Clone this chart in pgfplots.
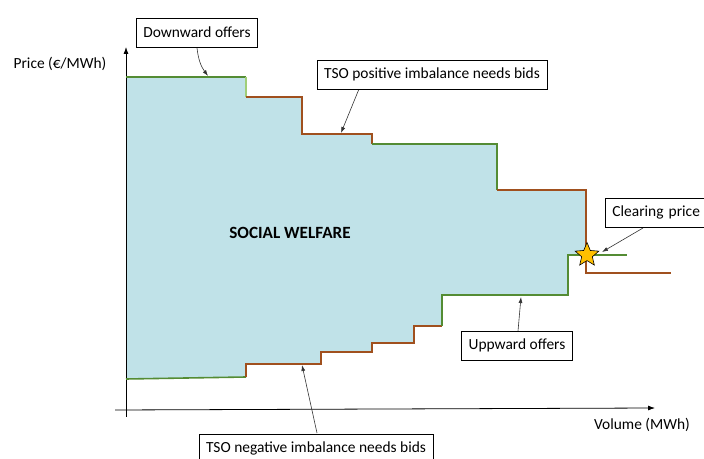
\documentclass[border=0pt]{standalone}
\usepackage{fontspec}
\setmainfont{Carlito}
\usepackage{pgfplots}
\pgfplotsset{compat=1.18}
\usetikzlibrary{arrows.meta}
\definecolor{welfare}{RGB}{192,226,232}
\definecolor{offgreen}{RGB}{84,140,52}
\definecolor{lightgreen}{RGB}{160,206,120}
\definecolor{bidbrown}{RGB}{160,80,30}
\definecolor{stargold}{RGB}{255,192,0}
\pgfdeclareplotmark{fivestar}{%
  \pgfpathmoveto{\pgfpointpolar{90}{\pgfplotmarksize}}%
  \pgfpathlineto{\pgfpointpolar{126}{0.45\pgfplotmarksize}}%
  \pgfpathlineto{\pgfpointpolar{162}{\pgfplotmarksize}}%
  \pgfpathlineto{\pgfpointpolar{198}{0.45\pgfplotmarksize}}%
  \pgfpathlineto{\pgfpointpolar{234}{\pgfplotmarksize}}%
  \pgfpathlineto{\pgfpointpolar{270}{0.45\pgfplotmarksize}}%
  \pgfpathlineto{\pgfpointpolar{306}{\pgfplotmarksize}}%
  \pgfpathlineto{\pgfpointpolar{342}{0.45\pgfplotmarksize}}%
  \pgfpathlineto{\pgfpointpolar{18}{\pgfplotmarksize}}%
  \pgfpathlineto{\pgfpointpolar{54}{0.45\pgfplotmarksize}}%
  \pgfpathclose
  \pgfusepathqfillstroke}
\begin{document}
\begin{tikzpicture}[
  lbl/.style={draw=black, line width=0.8pt, fill=white, font=\fontsize{15.5}{18}\selectfont,
    minimum height=29bp, inner xsep=7bp, inner ysep=0pt},
  arr/.style={-{Latex[length=6pt,width=4pt]}, line width=0.6pt, black!80}]
\begin{axis}[
  scale only axis, width=704bp, height=459bp,
  xmin=-126, xmax=578, ymin=-49, ymax=410,
  hide axis, clip=false]
% social welfare area
\addplot[fill=welfare, draw=none] coordinates {
  (0,31) (120,33) (120,46) (195,46) (195,58) (246,58) (246,67) (288,67) (288,84)
  (316,84) (316,115) (442,115) (442,155) (460,155) (460,220) (371,220) (371,266)
  (246,266) (246,276) (176,276) (176,313) (120,313) (120,333) (0,333)} -- cycle;
% axes
\draw[line width=0.8pt, -{Latex[length=7pt,width=5pt]}] (axis cs:0,-7) -- (axis cs:0,363);
\draw[line width=0.8pt, -{Latex[length=7pt,width=5pt]}] (axis cs:-11,0) -- (axis cs:529,2);
% demand side (downward offers / TSO positive imbalance bids)
\addplot[offgreen, line width=1.6pt] coordinates {(0,333) (120,333)};
\addplot[lightgreen, line width=1.6pt] coordinates {(120,333) (120,313)};
\addplot[bidbrown, line width=1.6pt] coordinates {(120,313) (176,313) (176,276) (246,276) (246,266)};
\addplot[offgreen, line width=1.6pt] coordinates {(246,266) (371,266) (371,220)};
\addplot[bidbrown, line width=1.6pt] coordinates {(371,220) (460,220) (460,137) (545,137)};
% supply side (upward offers / TSO negative imbalance bids)
\addplot[offgreen, line width=1.6pt] coordinates {(0,31) (120,33)};
\addplot[bidbrown, line width=1.6pt] coordinates {(120,33) (120,46) (195,46) (195,58) (246,58)
  (246,67) (288,67) (288,84) (316,84)};
\addplot[offgreen, line width=1.6pt] coordinates {(316,84) (316,115) (442,115) (442,155) (501,155)};
% clearing point
\addplot[only marks, mark=fivestar, mark size=12.5pt, fill=stargold, draw=black, line width=0.6pt]
  coordinates {(461,155)};
% labels
\node[font=\fontsize{15.5}{18}\selectfont] at (axis cs:-66,346) {Price (€/MWh)};
\node[font=\fontsize{15.5}{18}\selectfont] at (axis cs:516,-15) {Volume (MWh)};
\node[font=\bfseries\fontsize{17.2}{20}\selectfont] at (axis cs:164,177) {SOCIAL WELFARE};
\draw[arr] (axis cs:71,362) to[bend right=15] (axis cs:82,334);
\node[lbl] at (axis cs:71,377.5) {Downward offers};
\draw[arr] (axis cs:233,321) -- (axis cs:215,277);
\node[lbl] at (axis cs:306,335.5) {TSO positive imbalance needs bids};
\draw[arr] (axis cs:517,182) -- (axis cs:476,158);
\node[lbl, anchor=west, text width=96bp, align=left] at (axis cs:479,197.5) {Clearing price};
\draw[arr] (axis cs:392,79) -- (axis cs:395,113);
\node[lbl] at (axis cs:391,64.5) {Uppward offers};
\draw[arr] (axis cs:191,-23) -- (axis cs:176,45);
\node[lbl, anchor=north] at (axis cs:190,-24) {TSO negative imbalance needs bids};
\end{axis}
\pgfresetboundingbox
\useasboundingbox (current axis.south west) rectangle (current axis.north east);
\end{tikzpicture}
\end{document}
